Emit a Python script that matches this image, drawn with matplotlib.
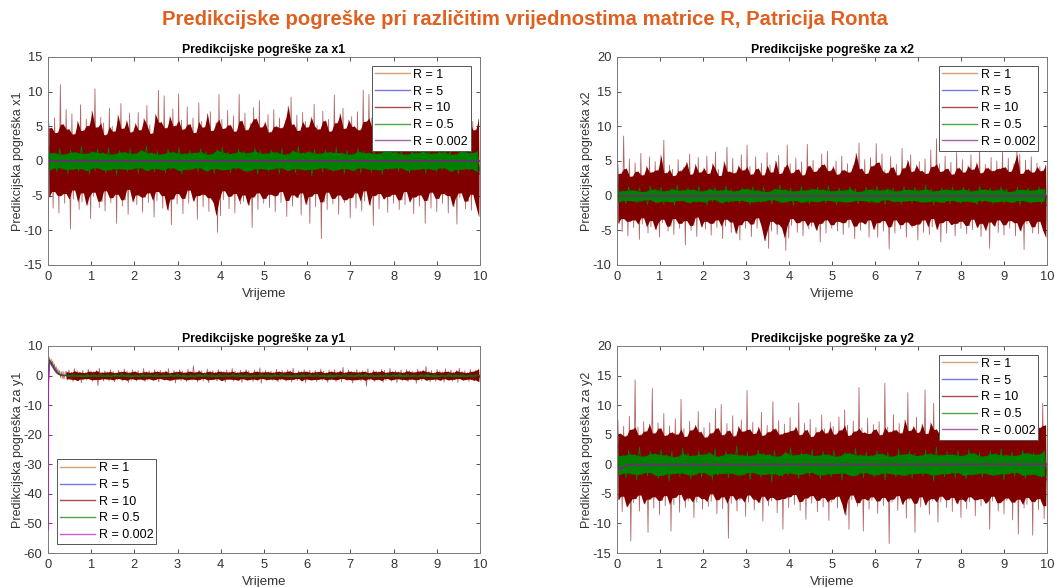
import numpy as np
import matplotlib
matplotlib.use("Agg")
import matplotlib.pyplot as plt

plt.rcParams['font.family'] = ['Liberation Sans', 'DejaVu Sans']
plt.rcParams['axes.unicode_minus'] = False

# ---- data (peak values of the noisy error signals) ----
labels = ['R = 1', 'R = 5', 'R = 10', 'R = 0.5', 'R = 0.002']
t_end = 10.0

# x1
x1_start = {'r1': -14.0, 'r5': -7.6, 'r10': 0.0, 'r05': -4.2}
x1_r1_up = [1.6, 1.2, 1.9, 1.4, 1.5, 1.1, 1.8, 1.3, 1.7, 1.4, 1.2, 1.9, 1.4, 1.5, 1.3]
x1_r1_dn = [-1.4, -1.8, -1.2, -1.6, -1.3, -1.9, -1.3, -1.5, -1.1, -1.7, -1.4, -1.2, -1.8, -1.3, -1.5]
x1_r5_up = [2.1, 2.5, 1.8, 2.3, 2.6, 1.9, 2.4, 2.0, 2.6, 1.8, 2.2, 2.5, 1.9, 2.3, 2.1]
x1_r5_dn = [-2.3, -1.9, -2.6, -2.1, -2.4, -1.8, -2.5, -2.0, -2.2, -2.6, -1.9, -2.4, -2.1, -2.5, -2.0]
x1_r10_up = [5.5, 4.8, 6.2, 4.1, 11.0, 5.3, 7.4, 4.6, 6.8, 3.9, 5.7, 8.1, 4.4, 6.0, 5.1,
             7.2, 10.4, 4.9, 6.3, 5.5, 3.8, 7.6, 5.0, 4.3, 6.6, 8.3, 4.7, 5.8, 6.9, 4.2,
             5.4, 7.0, 4.5, 6.1, 8.0, 5.2, 4.0, 6.7, 10.2, 5.6, 9.4, 4.8, 6.4, 7.5, 5.1,
             9.7, 5.9, 4.6, 7.8, 5.3, 6.2, 4.1, 8.4, 5.7, 4.9, 6.8, 7.1, 4.4, 5.5, 9.6,
             6.0, 4.7, 7.3, 5.2, 6.5, 4.3, 9.6, 5.8, 6.9, 4.5, 5.4, 7.7, 6.1, 8.7, 4.9,
             5.6, 6.7, 4.2, 7.4, 5.0, 6.2, 4.8, 5.9, 7.9, 9.2, 5.3, 6.6, 4.4, 7.0, 5.7,
             4.9, 6.3, 8.2, 5.1, 4.6, 7.2, 5.8, 6.0, 4.3, 9.5, 5.5, 6.8, 7.6, 4.7, 5.9,
             6.4, 5.0, 7.1, 4.5, 10.2, 5.7, 9.6, 6.2, 4.8, 7.4, 5.3, 6.5, 4.1, 8.0, 5.6,
             6.9, 4.6, 5.8, 7.5, 5.1, 6.3, 8.5, 4.4, 6.0, 5.4, 7.2, 4.9, 6.6, 5.2, 8.9,
             5.5, 7.0, 4.7, 6.2, 5.9, 8.1, 4.3, 6.8, 5.0, 7.3, 4.8, 6.1, 5.7, 4.5, 6.0]
x1_r10_dn = [-5.2, -6.8, -4.4, -7.5, -5.0, -6.1, -4.7, -9.8, -5.5, -4.2, -7.0, -5.9, -4.6, -6.4, -8.3,
             -5.1, -4.5, -6.7, -5.8, -7.2, -4.3, -6.0, -5.3, -9.0, -4.8, -6.5, -5.6, -7.7, -4.1, -5.9,
             -6.3, -4.9, -7.4, -5.2, -6.0, -4.6, -8.1, -5.7, -4.4, -6.8, -5.0, -7.1, -9.2, -5.5, -6.2,
             -4.7, -7.6, -5.4, -6.1, -4.2, -5.8, -8.4, -5.0, -6.6, -4.8, -7.3, -5.3, -6.0, -10.3, -7.9,
             -5.6, -4.3, -6.9, -5.1, -7.5, -4.7, -6.2, -5.8, -4.9, -6.4, -9.6, -5.2, -7.0, -4.6, -6.1,
             -5.4, -6.7, -4.8, -7.3, -5.0, -6.0, -4.4, -8.0, -5.7, -6.5, -4.9, -5.3, -7.8, -4.6, -6.3,
             -9.0, -5.1, -6.6, -4.7, -11.2, -5.9, -7.0, -4.5, -6.2, -5.4, -7.7, -4.9, -6.0, -5.6, -8.2,
             -5.3, -6.8, -4.6, -7.2, -5.8, -4.3, -6.4, -9.3, -5.0, -6.9, -4.7, -5.5, -7.4, -5.1, -6.1,
             -4.8, -7.0, -5.6, -6.3, -4.4, -5.9, -7.6, -5.2, -6.5, -4.9, -9.0, -5.7, -6.8, -4.5, -7.3,
             -5.4, -6.1, -4.7, -7.5, -5.0, -6.6, -9.1, -5.3, -4.6, -6.9, -5.8, -7.1, -4.8, -6.4, -8.0]
x1_r05_up = [1.5, 1.2, 1.8, 1.0, 1.6, 1.3, 2.1, 1.1, 1.4, 1.7, 1.2, 1.9, 1.0, 1.5, 1.3, 1.8, 1.1, 1.6, 2.2, 1.2,
             1.4, 1.0, 1.7, 1.3, 1.9, 1.1, 1.5, 1.2, 1.8, 1.4, 1.0, 1.6, 2.0, 1.3, 1.1, 1.7, 1.4, 1.2, 1.9, 1.5,
             1.1, 1.6, 1.3, 1.8, 1.0, 1.5, 2.1, 1.2, 1.4, 1.7, 1.1, 1.6, 1.3, 1.9, 1.2, 1.5, 1.0, 1.8, 1.4, 1.2,
             1.7, 1.1, 1.5, 2.0, 1.3, 1.6, 1.0, 1.8, 1.2, 1.4, 1.9, 1.1, 1.6, 1.3, 1.7, 1.0, 1.5, 1.8, 1.2, 1.4]
x1_r05_dn = [-1.3, -1.6, -1.0, -1.8, -1.2, -1.5, -1.1, -1.9, -1.4, -1.0, -1.7, -1.3, -2.0, -1.1, -1.5, -1.2, -1.8, -1.0, -1.4, -1.6,
             -1.1, -1.7, -1.3, -1.0, -1.9, -1.4, -1.2, -1.6, -1.0, -1.5, -1.8, -1.1, -1.3, -1.7, -1.2, -1.0, -1.6, -1.4, -1.9, -1.1,
             -1.5, -1.2, -1.8, -1.0, -1.4, -1.7, -1.1, -1.3, -2.1, -1.2, -1.6, -1.0, -1.5, -1.3, -1.8, -1.1, -1.4, -1.7, -1.0, -1.6,
             -1.2, -1.9, -1.3, -1.1, -1.5, -1.0, -1.7, -1.4, -1.2, -1.8, -1.1, -1.6, -1.3, -1.0, -1.5, -1.9, -1.2, -1.4, -1.1, -1.6]
x1_r0002_t = [0.0, 10.0]
x1_r0002 = [0.0, 0.0]

# x2
x2_start = {'r1': 2.0, 'r5': 16.0, 'r10': 0.0, 'r05': 4.2}
x2_r1_up = [1.2, 0.9, 1.4, 1.0, 1.3, 0.8, 1.3, 1.0, 1.2, 1.1, 0.9, 1.4, 1.0, 1.3, 1.0]
x2_r1_dn = [-1.0, -1.3, -0.9, -1.2, -1.0, -1.4, -1.1, -0.9, -1.3, -1.0, -1.3, -1.0, -1.2, -0.9, -1.1]
x2_r5_up = [1.6, 1.9, 1.4, 1.8, 2.0, 1.5, 1.8, 1.6, 2.0, 1.4, 1.7, 1.9, 1.5, 1.8, 1.6]
x2_r5_dn = [-1.8, -1.4, -2.0, -1.6, -1.9, -1.4, -1.9, -1.6, -1.7, -2.0, -1.5, -1.8, -1.6, -1.9, -1.5]
x2_r10_up = [4.5, 3.2, 8.6, 3.9, 5.3, 2.8, 4.7, 3.5, 6.1, 3.0, 4.2, 5.6, 3.4, 4.9, 3.7,
             5.8, 8.0, 3.3, 4.4, 3.8, 2.9, 5.2, 3.6, 4.1, 4.8, 6.0, 3.1, 4.5, 5.5, 3.4,
             4.0, 5.7, 3.2, 4.6, 6.3, 3.8, 2.9, 4.9, 7.0, 3.5, 5.4, 3.3, 4.3, 5.9, 3.7,
             7.3, 4.2, 3.1, 5.6, 3.9, 4.7, 3.0, 6.2, 4.4, 3.4, 5.0, 5.8, 3.2, 4.1, 7.3,
             4.6, 3.3, 5.4, 3.8, 4.9, 3.0, 7.4, 4.3, 5.1, 3.5, 4.0, 6.0, 4.5, 6.4, 3.6,
             4.2, 5.0, 3.1, 5.7, 3.7, 4.6, 3.4, 4.4, 6.1, 7.6, 3.9, 5.2, 3.2, 5.5, 4.3,
             7.5, 4.8, 6.0, 3.7, 3.3, 5.6, 4.1, 4.5, 3.0, 6.8, 4.0, 5.1, 5.9, 3.5, 4.4,
             4.9, 3.6, 5.3, 3.2, 6.6, 4.2, 8.2, 4.6, 3.5, 5.7, 3.9, 4.8, 3.1, 6.2, 4.0,
             5.2, 3.4, 4.3, 5.9, 3.8, 4.7, 6.7, 3.3, 4.5, 4.0, 5.5, 3.6, 5.0, 3.9, 6.5,
             4.1, 5.4, 3.5, 4.6, 7.0, 6.0, 3.2, 5.1, 3.8, 5.6, 3.4, 4.7, 4.2, 3.6, 4.4]
x2_r10_dn = [-4.0, -5.2, -3.3, -5.8, -3.7, -4.6, -3.5, -6.3, -4.1, -3.2, -5.4, -4.5, -3.6, -4.9, -6.0,
             -3.9, -3.4, -5.1, -4.4, -5.6, -3.3, -4.7, -4.0, -7.1, -3.6, -5.0, -4.3, -5.9, -3.1, -4.5,
             -4.8, -3.7, -5.7, -4.0, -4.6, -3.5, -6.2, -4.4, -3.4, -5.3, -3.8, -5.5, -6.4, -4.2, -4.7,
             -3.6, -5.9, -4.1, -4.7, -3.2, -4.5, -6.5, -7.6, -5.1, -3.7, -5.6, -4.1, -4.6, -7.9, -6.1,
             -4.3, -3.3, -5.3, -3.9, -5.8, -3.6, -4.8, -4.4, -3.8, -5.0, -6.7, -4.0, -5.4, -3.5, -4.7,
             -4.2, -5.1, -3.7, -5.6, -3.9, -4.6, -3.4, -6.2, -4.4, -5.0, -3.8, -4.1, -6.0, -3.5, -4.9,
             -6.0, -3.9, -5.1, -3.6, -7.7, -4.5, -5.4, -3.5, -4.8, -4.2, -6.0, -3.8, -4.6, -4.3, -6.4,
             -4.1, -5.3, -3.5, -5.6, -4.5, -3.3, -4.9, -6.7, -3.9, -5.4, -3.6, -4.2, -5.8, -4.0, -4.7,
             -3.7, -5.5, -4.3, -4.9, -3.4, -4.6, -5.9, -4.0, -5.0, -7.6, -3.8, -4.4, -5.3, -3.5, -5.7,
             -4.2, -4.7, -3.6, -5.8, -3.9, -5.1, -7.8, -4.1, -3.6, -5.4, -4.5, -5.5, -3.7, -5.0, -6.0]
x2_r05_up = [1.0, 0.7, 1.3, 0.8, 1.1, 0.6, 1.4, 0.9, 1.2, 0.7, 1.0, 1.5, 0.8, 1.1, 0.9, 1.3, 0.7, 1.0, 1.2, 0.8,
             1.4, 0.9, 0.7, 1.1, 1.0, 1.3, 0.8, 1.2, 0.6, 1.0, 1.5, 0.9, 1.1, 0.7, 1.3, 0.8, 1.0, 1.2, 0.9, 1.4,
             0.7, 1.1, 0.8, 1.3, 1.0, 0.6, 1.2, 0.9, 1.4, 0.8, 1.0, 1.1, 0.7, 1.3, 0.9, 1.2, 0.8, 1.5, 1.0, 0.7,
             1.1, 0.9, 1.3, 0.8, 1.2, 1.0, 0.7, 1.4, 0.9, 1.1, 0.8, 1.3, 1.0, 0.6, 1.2, 0.9, 1.1, 0.8, 1.3, 1.0]
x2_r05_dn = [-0.9, -1.2, -0.7, -1.1, -0.8, -1.3, -0.6, -1.0, -1.2, -0.8, -1.4, -0.9, -0.7, -1.1, -1.0, -0.8, -1.3, -0.9, -0.6, -1.2,
             -1.0, -0.8, -1.1, -0.7, -1.3, -0.9, -1.0, -0.8, -1.2, -0.6, -1.1, -0.9, -1.4, -0.7, -1.0, -1.2, -0.8, -0.9, -1.1, -0.7,
             -1.3, -0.8, -1.0, -0.9, -1.2, -0.7, -1.1, -0.8, -1.0, -1.3, -0.6, -0.9, -1.2, -0.8, -1.1, -0.7, -1.0, -0.9, -1.3, -0.8,
             -1.0, -1.2, -0.7, -1.1, -0.9, -0.8, -1.3, -1.0, -0.7, -1.2, -0.9, -1.1, -0.8, -1.0, -1.4, -0.7, -1.1, -0.9, -1.2, -0.8]
x2_r0002_t = [0.0, 10.0]
x2_r0002 = [0.0, 0.0]

# y1 (start transient, then small noise)
y1_tr_t = [0.0, 0.01, 0.03, 0.05, 0.07, 0.09, 0.11, 0.13, 0.15, 0.17, 0.19,
           0.21, 0.23, 0.25, 0.27, 0.29, 0.31, 0.33, 0.35, 0.37, 0.40]
y1_r1_tr = [-50.0, -8.0, 5.0, 4.8, 4.5, 4.0, 3.5, 3.0, 2.5, 2.0, 1.6,
            1.2, 0.9, 0.6, 0.4, 0.3, 0.2, 0.1, 0.1, 0.0, 0.0]
y1_r5_tr = [-49.0, -6.0, 5.2, 4.9, 4.5, 4.1, 3.6, 3.1, 2.6, 2.1, 1.7,
            1.3, 1.0, 0.7, 0.5, 0.3, 0.2, 0.1, 0.1, 0.0, 0.0]
y1_r10_tr = [-47.0, -5.0, 6.2, 4.1, 5.6, 3.5, 4.9, 2.6, 3.9, 1.8, 3.0,
             1.0, 2.3, 0.3, 1.6, -0.6, 1.2, -1.0, 1.4, -1.2, 1.1]
y1_r05_tr = [-50.0, -3.0, 4.8, 4.6, 4.2, 3.8, 3.3, 2.8, 2.3, 1.9, 1.5,
             1.1, 0.8, 0.6, 0.4, 0.3, 0.2, 0.1, 0.1, 0.0, 0.0]
y1_r0002_tr = [-52.0, 3.6, 4.6, 4.3, 3.9, 3.4, 2.9, 2.4, 1.9, 1.5, 1.1,
               0.8, 0.6, 0.4, 0.3, 0.2, 0.1, 0.1, 0.0, 0.0, 0.0]
y1_r1_up = [0.4, 0.6, 0.3, 0.5, 0.4, 0.6, 0.3, 0.5, 0.6, 0.3, 0.4, 0.6, 0.4, 0.5, 0.4]
y1_r1_dn = [-0.4, -0.3, -0.6, -0.4, -0.5, -0.3, -0.6, -0.4, -0.4, -0.6, -0.3, -0.5, -0.4, -0.4, -0.5]
y1_r5_up = [0.6, 0.7, 0.5, 0.8, 0.6, 0.6, 0.8, 0.5, 0.7, 0.6, 0.8, 0.6, 0.7, 0.5, 0.6]
y1_r5_dn = [-0.6, -0.5, -0.8, -0.6, -0.7, -0.8, -0.5, -0.6, -0.8, -0.6, -0.7, -0.5, -0.8, -0.6, -0.6]
y1_r10_up = [1.4, 1.9, 1.1, 2.3, 1.6, 1.2, 1.8, 1.0, 2.1, 1.5, 1.3, 1.7, 2.5, 1.1, 1.6,
             1.2, 2.0, 1.4, 1.0, 1.8, 1.3, 2.2, 1.5, 1.1, 1.9, 1.4, 1.7, 1.0, 2.4, 1.3,
             1.6, 1.1, 2.0, 1.4, 1.8, 1.2, 1.5, 2.3, 1.0, 1.7, 1.3, 1.9, 1.5, 1.1, 2.1,
             1.4, 3.3, 1.2, 1.8, 1.6, 1.0, 2.2, 1.4, 1.7, 1.1, 2.0, 1.5, 1.3, 1.9, 1.2,
             2.4, 1.5, 1.1, 1.8, 1.3, 2.0, 1.6, 1.0, 1.9, 1.4, 2.6, 1.2, 1.7, 1.3, 1.5,
             1.1, 2.1, 1.4, 1.7, 1.2, 1.9, 1.5, 2.5, 1.0, 1.6, 1.3, 2.0, 1.4, 1.8, 1.1,
             1.7, 1.3, 2.2, 1.5, 1.0, 1.8, 1.4, 2.0, 1.2, 1.6, 2.8, 1.1, 1.9, 1.5, 1.3,
             2.0, 1.2, 1.6, 1.4, 2.3, 1.0, 1.8, 1.5, 1.3, 2.1, 1.7, 1.1, 2.4, 1.4, 1.6,
             1.3, 1.9, 1.1, 2.0, 1.6, 1.4, 1.2, 2.2, 1.5, 1.8, 3.1, 1.3, 1.7, 1.0, 2.0,
             1.5, 1.2, 2.3, 1.4, 1.9, 1.1, 1.7, 2.5, 1.3, 1.6, 1.0, 2.1, 1.4, 1.8, 2.2]
y1_r10_dn = [-1.5, -1.1, -2.0, -1.3, -1.7, -2.4, -1.2, -1.6, -1.0, -1.9, -1.4, -3.4, -1.3, -1.8, -1.1,
             -1.7, -1.2, -2.1, -1.5, -1.0, -1.8, -1.3, -2.3, -1.6, -1.1, -1.9, -1.4, -1.2, -2.0, -1.5,
             -1.1, -1.8, -1.4, -2.2, -1.0, -1.6, -1.3, -1.9, -1.5, -2.5, -1.2, -1.7, -1.1, -2.0, -1.4,
             -1.6, -1.2, -2.1, -1.4, -1.8, -1.0, -2.4, -1.5, -1.3, -1.9, -1.1, -1.7, -2.2, -1.4, -1.2,
             -1.9, -1.3, -1.6, -2.3, -1.1, -1.7, -1.4, -2.0, -1.2, -1.5, -2.6, -1.0, -1.8, -1.3, -1.6,
             -1.2, -2.1, -1.5, -1.1, -1.9, -1.4, -2.2, -1.3, -1.7, -1.0, -1.8, -2.4, -1.2, -1.6, -1.4,
             -2.0, -1.3, -1.6, -1.1, -2.3, -1.5, -1.2, -1.9, -1.4, -2.1, -1.0, -1.7, -1.3, -2.5, -1.5,
             -1.4, -1.8, -1.2, -3.6, -1.6, -1.1, -2.0, -1.5, -1.3, -2.2, -1.7, -1.0, -1.9, -1.4, -2.4,
             -1.1, -1.7, -1.3, -2.0, -1.5, -1.2, -2.6, -1.4, -1.8, -1.0, -1.6, -2.1, -1.3, -1.9, -1.2,
             -1.6, -2.2, -1.1, -1.5, -1.9, -1.3, -2.3, -1.0, -1.7, -1.4, -2.0, -1.2, -1.8, -1.5, -2.1]
y1_r05_up = [0.3, 0.5, 0.2, 0.4, 0.3, 0.6, 0.2, 0.4, 0.5, 0.3, 0.2, 0.4, 0.3, 0.5, 0.2,
             0.4, 0.6, 0.3, 0.2, 0.4, 0.5, 0.3, 0.4, 0.2, 0.5, 0.3, 0.4, 0.2, 0.6, 0.3,
             0.4, 0.5, 0.2, 0.3, 0.4, 0.3, 0.5, 0.2, 0.4, 0.3, 0.6, 0.2, 0.4, 0.5, 0.3,
             0.2, 0.4, 0.3, 0.5, 0.4, 0.2, 0.3, 0.5, 0.4, 0.2, 0.6, 0.3, 0.4, 0.2, 0.3]
y1_r05_dn = [-0.3, -0.2, -0.5, -0.3, -0.4, -0.2, -0.6, -0.3, -0.2, -0.4, -0.5, -0.3, -0.2, -0.4, -0.3,
             -0.5, -0.2, -0.4, -0.6, -0.3, -0.2, -0.5, -0.3, -0.4, -0.2, -0.3, -0.5, -0.4, -0.2, -0.6,
             -0.3, -0.2, -0.4, -0.5, -0.3, -0.4, -0.2, -0.3, -0.6, -0.4, -0.2, -0.5, -0.3, -0.2, -0.4,
             -0.3, -0.5, -0.2, -0.4, -0.3, -0.6, -0.2, -0.3, -0.4, -0.5, -0.2, -0.3, -0.4, -0.3, -0.2]

# y2
y2_start = {'r1': 7.8, 'r5': 17.8, 'r10': 0.0, 'r05': 6.0}
y2_r1_up = [2.4, 1.9, 2.7, 2.1, 2.5, 1.8, 2.6, 2.0, 2.3, 2.0, 2.8, 2.2, 1.9, 2.5, 2.1]
y2_r1_dn = [-2.1, -2.6, -1.9, -2.4, -2.0, -2.7, -2.2, -1.8, -2.5, -2.0, -2.3, -2.6, -2.0, -2.4, -1.9]
y2_r5_up = [3.2, 2.7, 3.5, 2.9, 3.4, 2.6, 3.5, 3.0, 3.3, 2.8, 3.6, 3.1, 2.7, 3.4, 3.0]
y2_r5_dn = [-3.0, -3.5, -2.7, -3.3, -2.9, -3.6, -3.1, -2.6, -3.4, -2.8, -3.2, -3.6, -2.9, -3.3, -2.7]
y2_r10_up = [7.5, 5.2, 6.4, 4.8, 8.1, 5.9, 14.3, 6.3, 5.0, 7.2, 5.6, 6.8, 12.8, 5.3, 7.0,
             6.1, 8.6, 4.9, 6.5, 5.4, 7.7, 5.1, 11.0, 6.0, 4.7, 7.3, 5.8, 6.6, 8.9, 5.5,
             6.2, 4.6, 7.0, 5.3, 9.4, 6.1, 10.1, 5.0, 6.9, 5.7, 8.2, 4.8, 6.4, 7.5, 5.6,
             12.5, 5.9, 7.1, 5.2, 6.3, 8.8, 4.9, 6.6, 5.5, 10.6, 6.0, 7.4, 5.1, 6.8, 5.4,
             7.9, 5.7, 6.3, 10.4, 5.0, 6.9, 5.8, 7.6, 4.7, 6.2, 5.5, 8.3, 6.0, 5.3, 7.1,
             6.4, 5.1, 8.0, 5.8, 9.2, 6.6, 4.9, 7.3, 5.6, 13.0, 6.1, 5.4, 7.8, 5.2, 6.7,
             5.9, 7.2, 5.0, 13.7, 6.3, 5.5, 8.4, 5.8, 6.9, 5.3, 7.5, 12.1, 5.7, 6.4, 8.0,
             5.4, 6.8, 12.6, 5.2, 7.0, 10.3, 5.9, 6.3, 5.1, 7.7, 5.6, 8.5, 6.0, 5.3, 7.2,
             6.5, 5.0, 7.4, 5.8, 9.0, 6.2, 5.4, 7.9, 5.7, 6.6, 5.2, 8.7, 6.1, 5.5, 7.0,
             5.8, 6.9, 11.0, 5.6, 7.5, 6.0, 10.2, 5.3, 8.1, 6.4, 5.7, 7.3, 6.2, 10.3, 6.6]
y2_r10_dn = [-6.0, -8.0, -5.4, -7.2, -13.0, -6.5, -5.8, -7.9, -5.2, -6.7, -11.5, -5.9, -7.4, -5.5, -8.5,
             -6.1, -7.0, -5.3, -11.3, -6.8, -5.6, -8.1, -5.1, -7.3, -6.2, -5.7, -9.0, -6.4, -5.4, -7.6,
             -5.8, -7.1, -6.3, -5.0, -8.4, -6.0, -7.5, -5.5, -12.5, -6.6, -5.3, -7.9, -6.1, -5.7, -8.8,
             -6.4, -5.2, -7.7, -5.9, -6.5, -9.6, -5.4, -7.0, -6.2, -5.6, -8.2, -6.0, -11.0, -5.8, -7.3,
             -5.5, -6.8, -5.1, -7.8, -6.3, -9.3, -5.7, -6.6, -5.3, -8.0, -6.1, -7.2, -5.6, -9.5, -6.4,
             -5.9, -7.4, -5.4, -6.7, -8.6, -11.0, -6.0, -5.2, -7.1, -6.5, -11.3, -5.8, -7.6, -6.1, -5.5,
             -8.3, -6.2, -7.0, -5.6, -13.4, -6.4, -5.9, -7.8, -5.3, -6.8, -9.1, -6.0, -5.7, -11.5, -6.6,
             -7.2, -5.5, -6.9, -8.5, -6.1, -5.8, -9.8, -6.4, -5.4, -7.3, -6.0, -8.0, -5.6, -6.7, -9.0,
             -5.9, -7.5, -6.3, -5.5, -8.7, -6.0, -7.0, -5.8, -6.6, -11.0, -6.2, -5.4, -7.9, -6.5, -8.4,
             -6.1, -5.7, -9.4, -6.4, -11.8, -5.9, -7.4, -6.8, -5.6, -12.0, -6.3, -7.7, -5.8, -9.2, -7.0]
y2_r05_up = [2.0, 1.5, 2.4, 1.7, 2.9, 1.4, 2.2, 1.8, 2.5, 1.6, 2.1, 1.3, 2.7, 1.9, 1.5, 2.3, 1.7, 2.0, 2.6, 1.4,
             2.2, 1.8, 3.1, 1.6, 2.0, 1.5, 2.4, 1.9, 1.7, 2.3, 1.4, 2.1, 2.8, 1.6, 2.0, 1.8, 2.5, 1.5, 2.2, 1.7,
             2.4, 1.4, 2.0, 1.9, 2.7, 1.6, 2.1, 1.5, 2.3, 1.8, 2.0, 1.4, 2.6, 1.7, 2.2, 1.9, 1.5, 2.4, 1.8, 2.9,
             1.6, 2.1, 1.7, 2.3, 1.5, 2.5, 1.9, 2.0, 1.4, 2.2, 1.8, 2.6, 1.6, 2.1, 1.5, 2.4, 1.9, 2.0, 1.7, 2.3]
y2_r05_dn = [-1.8, -2.3, -1.5, -2.6, -1.7, -2.0, -1.4, -2.4, -1.9, -2.8, -1.6, -2.1, -1.5, -2.5, -1.8, -2.2, -1.4, -2.7, -1.9, -1.6,
             -2.3, -1.5, -2.0, -1.8, -2.6, -1.4, -2.2, -1.7, -3.0, -1.6, -2.1, -1.9, -1.5, -2.4, -1.7, -2.0, -1.4, -2.5, -1.8, -2.2,
             -1.6, -2.7, -1.5, -2.0, -1.9, -2.3, -1.4, -2.1, -1.8, -2.6, -1.5, -2.2, -1.7, -1.9, -2.4, -1.6, -2.0, -1.5, -2.8, -1.8,
             -2.1, -1.6, -2.3, -1.4, -2.5, -1.9, -1.7, -2.2, -1.5, -2.0, -1.8, -2.6, -1.6, -2.1, -1.4, -2.4, -1.9, -1.7, -2.2, -2.0]
y2_r0002_t = [0.0, 0.05, 0.1, 0.15, 0.2, 0.25, 0.3, 10.0]
y2_r0002 = [-0.3, -0.8, -0.65, -0.45, -0.3, -0.15, -0.05, 0.0]

# ---- styling ----
colors = ['#c47a35', '#3b3bdc', '#800000', '#008000', '#7e1f86']
y1_magenta = '#b418c4'
widths = [0.5, 0.5, 0.6, 0.6, 1.1]
line_alpha = [1.0, 1.0, 0.6, 1.0, 1.0]
axis_col = '#333333'


def zigzag(up, dn, t0, t1):
    y = np.empty(len(up) + len(dn))
    y[0::2] = up
    y[1::2] = dn
    return np.linspace(t0, t1, len(y)), y


def core(vals, upper):
    # body of the dense noise band: the smaller of each tip and its right neighbour
    p = np.append(np.asarray(vals, dtype=float), vals[-1])
    w = np.stack([p[:-1], p[1:]])
    return w.min(0) if upper else w.max(0)


def draw_noise(ax, t_pre, y_pre, up, dn, color, lw, alpha, label, fill, zorder=2):
    t0 = t_pre[-1] + 0.02 if len(t_pre) else 0.0
    t, y = zigzag(up, dn, t0, t_end)
    ax.plot(np.r_[t_pre, t], np.r_[y_pre, y], color=color, lw=lw, alpha=alpha,
            label=label, zorder=zorder)
    if fill:
        ax.fill_between(t[0::2], core(up, True), core(dn, False), color=color,
                        lw=0, zorder=zorder)


def style_axes(ax, title, ylabel, ylim, yticks):
    ax.set_xlim(0, 10)
    ax.set_ylim(*ylim)
    ax.set_xticks(range(0, 11))
    ax.set_yticks(yticks)
    ax.tick_params(direction='in', top=True, right=True, length=3, width=0.6,
                   labelsize=9.3, colors=axis_col, pad=4)
    for s in ax.spines.values():
        s.set_color('#7a7a7a')
        s.set_linewidth(0.7)
    ax.set_title(title, fontsize=8.8, fontweight='bold', pad=3)
    ax.set_xlabel('Vrijeme', fontsize=9.5, color=axis_col, labelpad=4)
    ax.set_ylabel(ylabel, fontsize=9, color=axis_col, labelpad=0)


def add_legend(ax, loc):
    leg = ax.legend(loc=loc, fontsize=9, fancybox=False, framealpha=1,
                    edgecolor='#555555', borderpad=0.25, handlelength=2.8,
                    handletextpad=0.3, labelspacing=0.38, borderaxespad=0.7)
    leg.get_frame().set_linewidth(0.7)
    for line in leg.get_lines():
        line.set_linewidth(1.0)
        line.set_alpha(0.7)


def draw_panel(ax, starts, noise, last_t, last_y):
    for key, (up, dn), c, lw, a, lab, fill in zip(['r1', 'r5', 'r10', 'r05'], noise, colors, widths,
                                                  line_alpha, labels, [False, False, True, True]):
        draw_noise(ax, [0.0], [starts[key]], up, dn, c, lw, a, lab, fill)
    ax.plot(last_t, last_y, color=colors[4], lw=widths[4], label=labels[4], zorder=2)


fig = plt.figure(figsize=(10.54, 5.87), dpi=100)
fig.text(0.498, 0.966, 'Predikcijske pogreške pri različitim vrijednostima matrice R, Patricija Ronta',
         ha='center', va='center', fontsize=14.6, fontweight='bold', color='#e0601f')

ax_x1 = fig.add_axes([0.0455, 0.5486, 0.4099, 0.3543])
ax_x2 = fig.add_axes([0.5854, 0.5486, 0.4080, 0.3543])
ax_y1 = fig.add_axes([0.0455, 0.0579, 0.4099, 0.3527])
ax_y2 = fig.add_axes([0.5854, 0.0579, 0.4080, 0.3527])

draw_panel(ax_x1, x1_start,
           [(x1_r1_up, x1_r1_dn), (x1_r5_up, x1_r5_dn), (x1_r10_up, x1_r10_dn), (x1_r05_up, x1_r05_dn)],
           x1_r0002_t, x1_r0002)
style_axes(ax_x1, 'Predikcijske pogreške za x1', 'Predikcijska pogreška x1', (-15, 15), range(-15, 16, 5))
add_legend(ax_x1, 'upper right')

draw_panel(ax_x2, x2_start,
           [(x2_r1_up, x2_r1_dn), (x2_r5_up, x2_r5_dn), (x2_r10_up, x2_r10_dn), (x2_r05_up, x2_r05_dn)],
           x2_r0002_t, x2_r0002)
style_axes(ax_x2, 'Predikcijske pogreške za x2', 'Predikcijska pogreška x2', (-10, 20), range(-10, 21, 5))
add_legend(ax_x2, 'upper right')

# y1: every curve starts with the transient read at the beginning
y1_noise = [(y1_r1_tr, y1_r1_up, y1_r1_dn), (y1_r5_tr, y1_r5_up, y1_r5_dn),
            (y1_r10_tr, y1_r10_up, y1_r10_dn), (y1_r05_tr, y1_r05_up, y1_r05_dn)]
for (tr, up, dn), c, lw, a, lab, fill in zip(y1_noise, colors, widths, line_alpha, labels,
                                             [False, False, True, True]):
    draw_noise(ax_y1, y1_tr_t, tr, up, dn, c, lw, a, lab, fill)
# R = 0.002: the jump at t = 0 lies on top, the rest under the other curves
ax_y1.plot(np.r_[y1_tr_t, t_end], np.r_[y1_r0002_tr, 0.0], color=y1_magenta, lw=1.0,
           label=labels[4], zorder=1.5)
ax_y1.plot(y1_tr_t[:2], y1_r0002_tr[:2], color=y1_magenta, lw=1.0, zorder=3)
style_axes(ax_y1, 'Predikcijske pogreške za y1', 'Predikcijska pogreška za y1', (-60, 10), range(-60, 11, 10))
add_legend(ax_y1, 'lower left')

draw_panel(ax_y2, y2_start,
           [(y2_r1_up, y2_r1_dn), (y2_r5_up, y2_r5_dn), (y2_r10_up, y2_r10_dn), (y2_r05_up, y2_r05_dn)],
           y2_r0002_t, y2_r0002)
style_axes(ax_y2, 'Predikcijske pogreške za y2', 'Predikcijska pogreška za y2', (-15, 20), range(-15, 21, 5))
add_legend(ax_y2, 'upper right')

fig.savefig('out.png', dpi=100)
